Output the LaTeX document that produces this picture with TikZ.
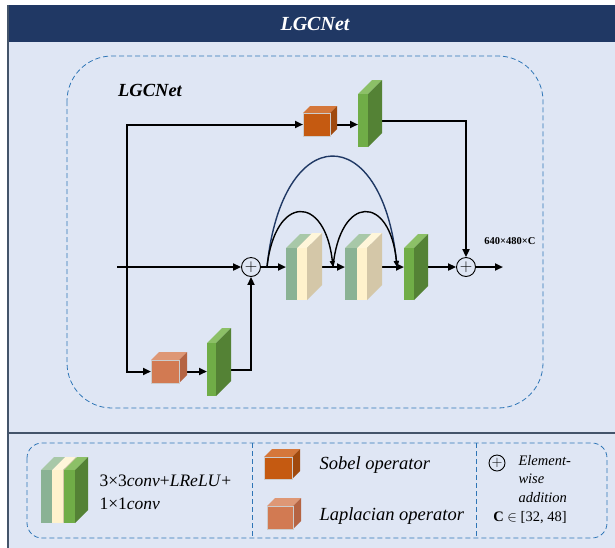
\documentclass[tikz,border=0pt]{standalone}
\usepackage{fontspec}
\setmainfont{Liberation Serif}
\usetikzlibrary{arrows.meta}

\definecolor{navy}{HTML}{203864}
\definecolor{panel}{HTML}{DFE6F4}
\definecolor{framegray}{HTML}{44546A}
\definecolor{dashblue}{HTML}{2E75B6}
\definecolor{sobelF}{HTML}{C55A11}
\definecolor{sobelT}{HTML}{D5773A}
\definecolor{sobelS}{HTML}{A04A0E}
\definecolor{lapF}{HTML}{D27A52}
\definecolor{lapT}{HTML}{DE9775}
\definecolor{lapS}{HTML}{B56443}
\definecolor{grnF}{HTML}{70AD47}
\definecolor{grnT}{HTML}{8CC067}
\definecolor{grnS}{HTML}{548235}
\definecolor{sageF}{HTML}{8AB294}
\definecolor{sageT}{HTML}{A8C8A8}
\definecolor{sageS}{HTML}{6E9478}
\definecolor{creamF}{HTML}{FFF2CC}
\definecolor{creamT}{HTML}{FFF6DA}
\definecolor{creamS}{HTML}{D4C7A8}
\definecolor{arcnavy}{HTML}{1F3864}

% 3D block on a named node: front, top, side, depth
\newcommand{\drawblock}[5]{%
  \path[#3] (#1.north west) -- (#1.north east)
    -- ([shift={(#5,#5)}]#1.north east) -- ([shift={(#5,#5)}]#1.north west) -- cycle;
  \path[#4] (#1.north east) -- (#1.south east)
    -- ([shift={(#5,#5)}]#1.south east) -- ([shift={(#5,#5)}]#1.north east) -- cycle;
  \path[#2] (#1.south west) rectangle (#1.north east);
}

\begin{document}
\begin{tikzpicture}[
    x=1pt, y=-1pt,
    blk/.style 2 args={
        inner sep=0pt,
        outer sep=0pt,
        minimum width=#1,
        minimum height=#2
    },
    addop/.style={
        circle,
        draw,
        line width=0.9pt,
        inner sep=0pt,
        minimum size=#1,
        font=\fontsize{17}{17}\selectfont
    },
    arrow/.style={
        line width=2pt,
        -{Triangle[length=8pt,width=7pt]}
    },
    skip/.style={
        line width=1.4pt,
        -{Triangle[length=6pt,width=5pt]}
    },
    bluedash/.style={
        draw=dashblue,
        line width=0.8pt,
        dash pattern=on 5pt off 3pt
    }
]

\useasboundingbox (0,0) rectangle (615,547);
\clip (0,0) rectangle (615,547);

% ------------------------------------------------
% Frame
% ------------------------------------------------

\fill[white] (0,0) rectangle (615,547);
\fill[panel] (8,42) rectangle (620,550);
\fill[navy] (8,5) rectangle (620,42);
\draw[framegray, line width=1.5pt] (8,5) -- (8,550);
\draw[framegray, line width=2.2pt] (8,433) -- (620,433);

\node[text=white, font=\fontsize{20}{20}\selectfont\bfseries\itshape] (title) at (315,24) {LGCNet};

\draw[bluedash, rounded corners=45pt] (67,56) rectangle (543,408);
\node[font=\fontsize{18.5}{18.5}\selectfont\bfseries\itshape] (name) at (150,90) {LGCNet};

% ------------------------------------------------
% Blocks
% ------------------------------------------------

\node[blk={27pt}{23pt}] (sobel) at (316.5,124.5) {};
\node[blk={10pt}{53pt}] (sobelconv) at (363,120.5) {};

\node[blk={28pt}{23pt}] (lap) at (165,371.5) {};
\node[blk={9pt}{53pt}] (lapconv) at (211.5,369.5) {};

\node[blk={11pt}{52pt}] (convAg) at (291.5,274) {};
\node[blk={10pt}{52pt}] (convAc) at (302,274) {};
\node[blk={12pt}{52pt}] (convBg) at (351,274) {};
\node[blk={10pt}{52pt}] (convBc) at (362,274) {};
\node[blk={10pt}{52pt}] (fconv) at (409,274) {};

\node[addop=19pt] (plus1) at (251,267) {$+$};
\node[addop=19pt] (plus2) at (466,267) {$+$};

\coordinate (in) at (117,267);
\coordinate (split) at (127,267);
\coordinate (out) at (503,267);
\coordinate (fork) at (267,267);
\coordinate (mid) at (333,267);
\coordinate (join) at (397,267);

\node[font=\fontsize{10.5}{10.5}\selectfont\bfseries] (dims) at (510,241) {640×480×C};

% ------------------------------------------------
% Arrows: main path
% ------------------------------------------------

\draw[arrow] (in) -- (plus1.west);
\draw[arrow] (plus1.east) -- (plus1 -| convAg.west);
\draw[arrow] (convAc.east |- plus1) -- (convBg.west |- plus1);
\draw[arrow] (convBc.east |- plus1) -- (fconv.west |- plus1);
\draw[arrow] (fconv.east |- plus2) -- (plus2.west);
\draw[arrow] (plus2.east) -- (out);

% ------------------------------------------------
% Arrows: Sobel and Laplacian branches
% ------------------------------------------------

\draw[arrow] (split) |- (sobel.west);
\draw[arrow] (sobel.east) -- (sobelconv.west |- sobel.east);
\draw[arrow] (sobelconv.east) -| (plus2.north);

\draw[arrow] (split) |- (lap.west);
\draw[arrow] (lap.east) -- (lapconv.west |- lap.east);
\draw[arrow] (lapconv.east) -| (plus1.south);

% ------------------------------------------------
% Block faces
% ------------------------------------------------

\drawblock{sobel}{fill=sobelF,draw=white!60!gray,line width=0.4pt}{fill=sobelT}{fill=sobelS}{7pt}
\drawblock{sobelconv}{fill=grnF}{fill=grnT}{fill=grnS}{14pt}
\drawblock{lap}{fill=lapF,draw=white!60!gray,line width=0.4pt}{fill=lapT}{fill=lapS}{8pt}
\drawblock{lapconv}{fill=grnF}{fill=grnT}{fill=grnS}{15pt}
\drawblock{convAg}{fill=sageF}{fill=sageT}{fill=sageS}{14pt}
\drawblock{convAc}{fill=creamF}{fill=creamT}{fill=creamS}{15pt}
\drawblock{convBg}{fill=sageF}{fill=sageT}{fill=sageS}{14pt}
\drawblock{convBc}{fill=creamF}{fill=creamT}{fill=creamS}{15pt}
\drawblock{fconv}{fill=grnF}{fill=grnT}{fill=grnS}{14pt}

% ------------------------------------------------
% Skip connections
% ------------------------------------------------

\draw[skip, arcnavy] (fork) .. controls (282,120) and (382,120) .. (join);
\draw[skip] (fork) .. controls (275,194) and (325,194) .. (mid);
\draw[skip] (mid) .. controls (340,194) and (390,194) .. (join);

% ------------------------------------------------
% Legend
% ------------------------------------------------

\draw[bluedash, rounded corners=15pt] (27,443) rectangle (607,538);
\draw[bluedash, line width=0.6pt] (252,443) -- (252,538);
\draw[bluedash, line width=0.6pt] (476,443) -- (476,538);

\node[blk={11pt}{53pt}] (keyA) at (46.5,496.5) {};
\node[blk={11pt}{53pt}] (keyB) at (57.5,496.5) {};
\node[blk={11pt}{53pt}] (keyC) at (69.5,496.5) {};
\drawblock{keyA}{fill=sageF}{fill=sageT}{fill=sageS}{13pt}
\drawblock{keyB}{fill=creamF}{fill=creamT}{fill=creamS}{13pt}
\drawblock{keyC}{fill=grnF}{fill=grnT}{fill=grnS}{13pt}

\node[anchor=west, align=left, font=\fontsize{17.5}{23}\selectfont] (convtxt) at (96,492) {%
    3×3\textit{conv}+\textit{LReLU}+\\
    1×1\textit{conv}
};

\node[blk={28pt}{22pt}] (keysobel) at (278,468) {};
\drawblock{keysobel}{fill=sobelF,draw=white!60!gray,line width=0.4pt}{fill=sobelT}{fill=sobelS}{8pt}
\node[anchor=west, font=\fontsize{18.5}{18.5}\selectfont\itshape] (sobeltxt) at (316,465) {Sobel operator};

\node[blk={26pt}{23pt}] (keylap) at (280,517.5) {};
\drawblock{keylap}{fill=lapF,draw=white!60!gray,line width=0.4pt}{fill=lapT}{fill=lapS}{8pt}
\node[anchor=west, font=\fontsize{18.5}{18.5}\selectfont\itshape] (laptxt) at (316,516) {Laplacian operator};

\node[addop=16pt, font=\fontsize{14}{14}\selectfont] (keyplus) at (497,463) {$+$};
\node[anchor=west, align=left, font=\fontsize{14.5}{18.5}\selectfont\itshape] (addtxt) at (515,479) {%
    Element-\\
    wise\\
    addition
};
\node[font=\fontsize{14.5}{14.5}\selectfont] (chan) at (530,518) {\textbf{C} $\in$ [32, 48]};

\end{tikzpicture}
\end{document}
